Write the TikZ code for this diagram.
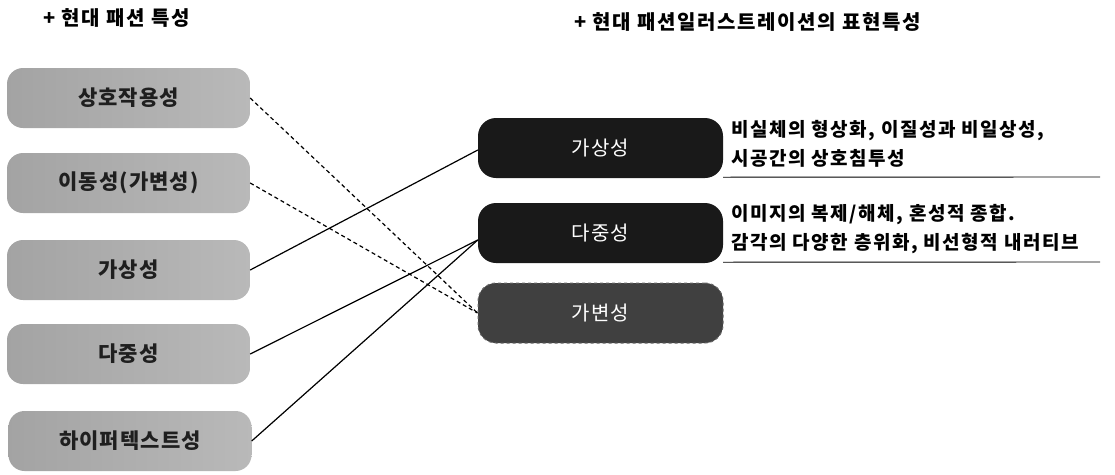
\documentclass[tikz,border=0pt]{standalone}
\usepackage{fontspec}
\setmainfont{Noto Sans CJK KR}
\begin{document}
\begin{tikzpicture}[x=1pt,y=-1pt,
  lbox/.style={rounded corners=16pt, minimum width=243pt, minimum height=60pt,
    left color=gray!72, right color=gray!55, draw=none,
    font=\fontsize{21}{24}\selectfont\bfseries\addfontfeatures{LetterSpace=5}, text=black!88},
  rbox/.style={rounded corners=18pt, minimum width=245pt, minimum height=60pt,
    fill=black!90, draw=none, text=white, font=\fontsize{20}{22}\selectfont\addfontfeatures{LetterSpace=5}},
  vbox/.style={rbox, fill=black!75, draw=black!60, dashed, line width=1pt},
  desc/.style={anchor=west, align=left, font=\fontsize{19}{29}\selectfont\bfseries\addfontfeatures{LetterSpace=8}},
  head/.style={anchor=west, font=\fontsize{20}{22}\selectfont\bfseries\addfontfeatures{LetterSpace=8}},
  conn/.style={draw=black, line width=1.2pt},
  dconn/.style={conn, dashed, dash pattern=on 4pt off 3pt},
  uline/.style={draw=black, line width=0.9pt}]
\useasboundingbox (0,0) rectangle (1115,474);
% headers
\node[head] (h1) at (40,18) {+ 현대 패션 특성};
\node[head] (h2) at (571,22) {+ 현대 패션일러스트레이션의 표현특성};
% left boxes
\node[lbox] (l1) at (128.5,98) {상호작용성};
\node[lbox] (l2) at (128.5,183) {이동성(가변성)};
\node[lbox] (l3) at (128.5,270) {가상성};
\node[lbox] (l4) at (128.5,354) {다중성};
\node[lbox] (l5) at (130,441) {하이퍼텍스트성};
% right boxes
\node[rbox] (r1) at (600.5,148) {가상성};
\node[rbox] (r2) at (600.5,233) {다중성};
\node[vbox] (r3) at (600.5,313) {가변성};
% descriptions
\node[desc] (d1) at (728,144) {비실체의 형상화, 이질성과 비일상성,\\시공간의 상호침투성};
\node[desc] (d2) at (728,229) {이미지의 복제/해체, 혼성적 종합.\\감각의 다양한 층위화, 비선형적 내러티브};
\coordinate (u1) at (1100,177);
\coordinate (u2) at (1100,262);
\draw[uline] (r1.south east) ++(0,-1) -- (u1);
\draw[uline] (r2.south east) ++(0,-1) -- (u2);
% connectors
\draw[dconn] (l1.east) -- (r3.west);
\draw[dconn] (l2.east) -- (r3.west);
\draw[conn] (l3.east) -- ([yshift=-2pt]r1.west);
\draw[conn] (l4.east) -- ([yshift=-7pt]r2.west);
\draw[conn] (l5.east) -- ([yshift=-7pt]r2.west);
\end{tikzpicture}
\end{document}
